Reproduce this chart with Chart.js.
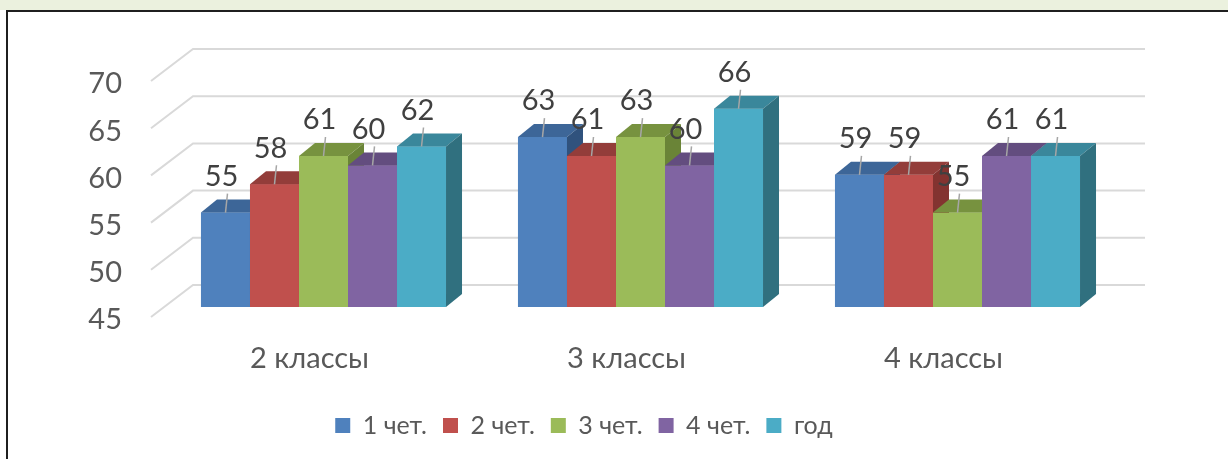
<!DOCTYPE html>
<html>
<head>
<meta charset="utf-8">
<script src="https://cdn.jsdelivr.net/npm/chart.js@4.4.1/dist/chart.umd.min.js"></script>
<style>
    html, body { margin: 0; padding: 0; background: #ffffff; overflow: hidden; }
    #strip { position: absolute; left: 0; top: 0; width: 1228px; height: 10px; background: #EBF1DE; }
    #frame { position: absolute; left: 6px; top: 10px; width: 1300px; height: 500px;
             border-top: 2px solid #1f1f1f; border-left: 2px solid #1f1f1f; }
    #wrap { position: absolute; left: 0; top: 0; width: 1228px; height: 459px; }
</style>
</head>
<body>
<div id="strip"></div>
<div id="frame"></div>
<div id="wrap"><canvas id="chart" width="1228" height="459"></canvas></div>
<script>
// Data
const categories = ['2 классы', '3 классы', '4 классы'];
const seriesNames = ['1 чет.', '2 чет.', '3 чет.', '4 чет.', 'год'];
const q1 = [55, 63, 59];
const q2 = [58, 61, 59];
const q3 = [61, 63, 55];
const q4 = [60, 60, 61];
const yearAvg = [62, 66, 61];
const yTicks = [45, 50, 55, 60, 65, 70];

const seriesData = [q1, q2, q3, q4, yearAvg];
const frontColors = ['#4F81BD', '#C0504D', '#9BBB59', '#8064A2', '#4BACC6'];
const topColors = ['#3D6698', '#933D3A', '#77923F', '#634D7F', '#3A879B'];
const sideColors = ['#30527D', '#833330', '#6A8437', '#584570', '#30707F'];

const fontFamily = "Lato, 'Open Sans', sans-serif";
const DX = 16, DY = 13;          // bar depth
const WALL_DX = 28, WALL_DY = 22; // back wall offset from bar front
const FLOOR_DX = 14, FLOOR_DY = 10; // front edge offset

// 3D look: back wall grid, bar tops/sides, labels with leader lines
const box3d = {
    id: 'box3d',
    beforeDatasetsDraw(chart) {
        const { ctx, chartArea, scales: { y } } = chart;
        ctx.save();
        ctx.strokeStyle = '#D9D9D9';
        ctx.lineWidth = 2;
        y.ticks.forEach(t => {
            const py = y.getPixelForValue(t.value);
            ctx.beginPath();
            ctx.moveTo(chartArea.left - FLOOR_DX, py + FLOOR_DY);
            ctx.lineTo(chartArea.left + WALL_DX, py - WALL_DY);
            ctx.lineTo(chartArea.right + WALL_DX + 1, py - WALL_DY);
            ctx.stroke();
        });
        ctx.restore();
    },
    afterDatasetsDraw(chart) {
        const { ctx } = chart;
        ctx.save();
        // repaint boxes left to right so neighbours hide side faces
        chart.data.datasets.forEach((ds, di) => {
            const meta = chart.getDatasetMeta(di);
            meta.data.forEach(bar => {
                const { x, y, base, width } = bar.getProps(['x', 'y', 'base', 'width'], true);
                const l = x - width / 2, r = x + width / 2;
                ctx.fillStyle = frontColors[di];
                ctx.fillRect(l, y, width, base - y);
                ctx.fillStyle = topColors[di];
                ctx.beginPath();
                ctx.moveTo(l, y); ctx.lineTo(r, y);
                ctx.lineTo(r + DX, y - DY); ctx.lineTo(l + DX, y - DY);
                ctx.closePath(); ctx.fill();
                ctx.fillStyle = sideColors[di];
                ctx.beginPath();
                ctx.moveTo(r, y); ctx.lineTo(r + DX, y - DY);
                ctx.lineTo(r + DX, base - DY); ctx.lineTo(r, base);
                ctx.closePath(); ctx.fill();
            });
        });
        // value labels
        ctx.font = `29px ${fontFamily}`;
        ctx.textAlign = 'center';
        ctx.textBaseline = 'middle';
        chart.data.datasets.forEach((ds, di) => {
            const meta = chart.getDatasetMeta(di);
            meta.data.forEach((bar, i) => {
                const { x, y } = bar.getProps(['x', 'y'], true);
                ctx.strokeStyle = '#A6A6A6';
                ctx.lineWidth = 1.5;
                ctx.beginPath();
                ctx.moveTo(x + 2, y - 19);
                ctx.lineTo(x, y);
                ctx.stroke();
                ctx.fillStyle = '#404040';
                ctx.fillText(ds.data[i], x - 4, y - 36);
            });
        });
        ctx.restore();
    }
};

const ctx = document.getElementById('chart').getContext('2d');
const chart = new Chart(ctx, {
    type: 'bar',
    data: {
        labels: categories,
        datasets: seriesNames.map((name, i) => ({
            label: name,
            data: seriesData[i],
            base: yTicks[0],
            backgroundColor: frontColors[i],
            borderWidth: 0
        }))
    },
    options: {
        responsive: false,
        animation: false,
        layout: { padding: { left: 52, right: 112, top: 71, bottom: 11 } },
        datasets: { bar: { barPercentage: 1, categoryPercentage: 0.773 } },
        scales: {
            x: {
                grid: { display: false },
                border: { display: false },
                ticks: {
                    color: '#595959',
                    font: { family: fontFamily, size: 29 },
                    padding: 26,
                    labelOffset: -14,
                    maxRotation: 0
                },
                afterFit: s => { s.height = 90; }
            },
            y: {
                min: 45,
                max: 70,
                afterBuildTicks: s => { s.ticks = yTicks.map(v => ({ value: v })); },
                grid: { display: false },
                border: { display: false },
                ticks: {
                    color: '#595959',
                    font: { family: fontFamily, size: 29 },
                    padding: 35,
                    labelOffset: 13
                },
                afterFit: s => { s.width = 113; }
            }
        },
        plugins: {
            legend: {
                position: 'bottom',
                labels: {
                    boxWidth: 15,
                    boxHeight: 15,
                    padding: 16,
                    color: '#595959',
                    font: { family: fontFamily, size: 25 }
                }
            },
            tooltip: { enabled: false }
        }
    },
    plugins: [box3d]
});
</script>
</body>
</html>
